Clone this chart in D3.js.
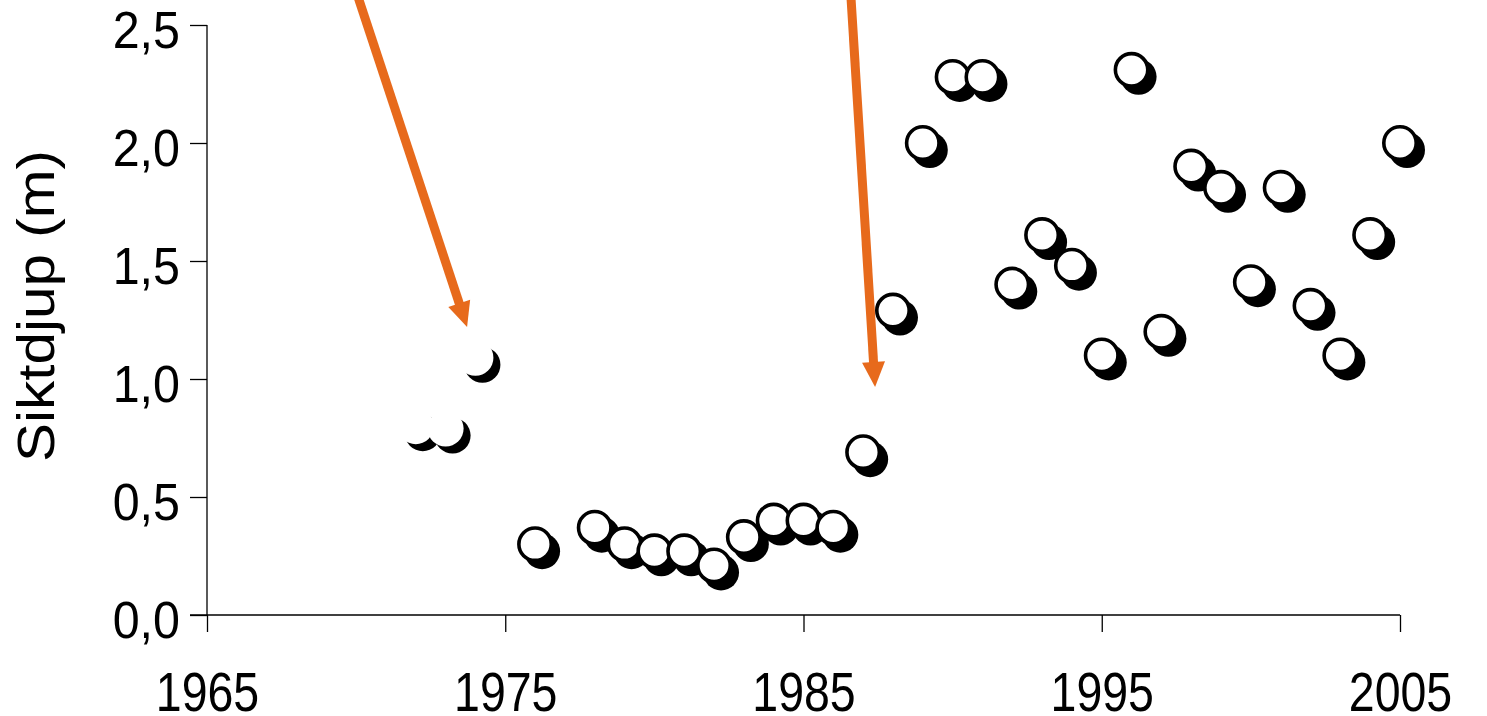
<!DOCTYPE html>
<html>
<head>
<meta charset="utf-8">
<script src="https://cdn.jsdelivr.net/npm/d3@7"></script>
<style>
  html, body { margin: 0; padding: 0; background: #ffffff; }
  svg { display: block; }
</style>
</head>
<body>
<svg id="chart" width="1487" height="716"></svg>
<script>
// ---- data ----
const years = [1972, 1973, 1974, 1976, 1978, 1979, 1980, 1981, 1982, 1983, 1984, 1985, 1986,
  1987, 1988, 1989, 1990, 1991, 1992, 1993, 1994, 1995, 1996, 1997, 1998, 1999, 2000,
  2001, 2002, 2003, 2004, 2005];
const depth = [0.80, 0.79, 1.09, 0.30, 0.37, 0.30, 0.27, 0.27, 0.21, 0.33, 0.40, 0.40, 0.37,
  0.69, 1.29, 2.00, 2.28, 2.28, 1.40, 1.61, 1.48, 1.10, 2.31, 1.20, 1.90, 1.81, 1.41,
  1.81, 1.31, 1.10, 1.61, 2.00];
const outlineless = [1972, 1973, 1974];
const xTicks = [1965, 1975, 1985, 1995, 2005];
const yTicks = [0, 0.5, 1.0, 1.5, 2.0, 2.5];
const yTitle = "Siktdjup (m)";
// annotation arrows: [startYear, startValue, endYear, endValue]
const arrowStartYears = [1970.06, 1986.59];
const arrowStartValues = [2.62, 2.62];
const arrowEndYears = [1973.72, 1987.40];
const arrowEndValues = [1.22, 0.966];

// ---- scales ----
const svg = d3.select("#chart");
const x = d3.scaleLinear().domain([1965, 2005]).range([207, 1400]);
const y = d3.scaleLinear().domain([0, 2.5]).range([615, 25]);

const axisColor = "#000";
const axisWidth = 1.3;

// ---- y axis ----
const yAxis = d3.axisLeft(y).tickValues(yTicks).tickSize(17).tickSizeOuter(0)
  .tickFormat(d => d.toFixed(1).replace(".", ","));
const gy = svg.append("g").attr("transform", "translate(207,0)").call(yAxis);
gy.select(".domain").remove();
gy.selectAll(".tick line").attr("stroke", axisColor).attr("stroke-width", axisWidth);
gy.selectAll(".tick text")
  .attr("x", null).attr("dy", null).attr("y", null)
  .attr("transform", "translate(-27,22.5) scale(1.03,1.1)")
  .attr("text-anchor", "end")
  .attr("font-family", "'Liberation Sans', Arial, sans-serif")
  .attr("font-size", 47)
  .attr("fill", "#000");

// ---- x axis ----
const xAxis = d3.axisBottom(x).tickValues(xTicks).tickSize(17).tickSizeOuter(0)
  .tickFormat(d3.format("d"));
const gx = svg.append("g").attr("transform", "translate(0,615)").call(xAxis);
gx.select(".domain").remove();
gx.selectAll(".tick line").attr("stroke", axisColor).attr("stroke-width", axisWidth);
gx.selectAll(".tick text")
  .attr("x", null).attr("dy", null).attr("y", null)
  .attr("transform", "translate(0,96) scale(0.93,1.1)")
  .attr("text-anchor", "middle")
  .attr("font-family", "'Liberation Sans', Arial, sans-serif")
  .attr("font-size", 50)
  .attr("fill", "#000");

// axis lines
svg.append("line")
  .attr("x1", x(1965)).attr("x2", x(1965))
  .attr("y1", y(2.5)).attr("y2", y(0))
  .attr("stroke", axisColor).attr("stroke-width", axisWidth);
svg.append("line")
  .attr("x1", x(1965) - 17).attr("x2", x(2005))
  .attr("y1", y(0)).attr("y2", y(0))
  .attr("stroke", axisColor).attr("stroke-width", axisWidth);

// y title
svg.append("text")
  .attr("transform", "translate(54,306) rotate(-90) scale(1.17,1.02)")
  .attr("text-anchor", "middle")
  .attr("font-family", "'Liberation Sans', Arial, sans-serif")
  .attr("font-size", 50)
  .attr("fill", "#000")
  .text(yTitle);

// ---- points ----
const pts = years.map((yr, i) => ({ year: yr, value: depth[i] }));
const shadowOffset = 7;
const g = svg.append("g");
const pg = g.selectAll("g.pt").data(pts).join("g").attr("class", "pt");
pg.append("circle")
  .attr("cx", d => x(d.year) + shadowOffset)
  .attr("cy", d => y(d.value) + shadowOffset)
  .attr("r", 18)
  .attr("fill", "#000");
pg.append("circle")
  .attr("cx", d => x(d.year))
  .attr("cy", d => y(d.value))
  .attr("r", d => outlineless.includes(d.year) ? 18 : 16.2)
  .attr("fill", "#fff")
  .attr("stroke", d => outlineless.includes(d.year) ? "none" : "#000")
  .attr("stroke-width", 3.6);

// ---- arrows ----
const orange = "#E76A1C";
arrowStartYears.forEach((sy, i) => {
  const x0 = x(sy), y0 = y(arrowStartValues[i]);
  const x1 = x(arrowEndYears[i]), y1 = y(arrowEndValues[i]);
  const dx = x1 - x0, dy = y1 - y0, len = Math.hypot(dx, dy);
  const ux = dx / len, uy = dy / len;
  const headLen = 25, headHalf = 11.5;
  const bx = x1 - ux * headLen, by = y1 - uy * headLen;
  svg.append("line")
    .attr("x1", x0).attr("y1", y0).attr("x2", bx + ux * 2).attr("y2", by + uy * 2)
    .attr("stroke", orange).attr("stroke-width", 9);
  const px = -uy, py = ux;
  svg.append("path")
    .attr("d", `M${x1},${y1} L${bx + px * headHalf},${by + py * headHalf} L${bx - px * headHalf},${by - py * headHalf} Z`)
    .attr("fill", orange);
});
</script>
</body>
</html>
